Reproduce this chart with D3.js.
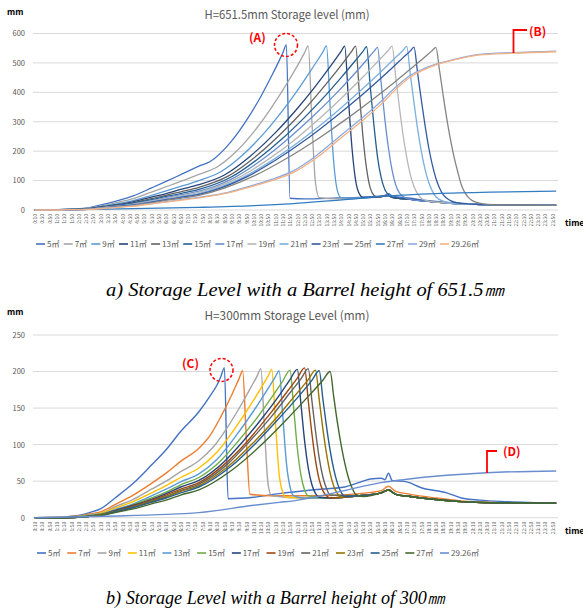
<!DOCTYPE html>
<html>
<head>
<meta charset="utf-8">
<script src="https://cdn.jsdelivr.net/npm/d3@7"></script>
<style>
body { margin: 0; background: #fff; }
</style>
</head>
<body>
<svg id="fig" width="583" height="610" font-family="'Noto Sans CJK KR', 'Noto Sans', sans-serif"></svg>
<script>
// categories: every 10 minutes, 0:10 .. 24:00
var times = [];
for (var m = 10; m <= 1440; m += 10) times.push(Math.floor(m / 60) + ":" + String(m % 60).padStart(2, "0"));
var timeLabels = times.filter(function(t, i) { return i % 2 === 0; });

// ---------- a) H=651.5mm ----------
var ticks1 = [0, 100, 200, 300, 400, 500, 600];
var names1 = ["5㎡","7㎡","9㎡","11㎡","13㎡","15㎡","17㎡","19㎡","21㎡","23㎡","25㎡","27㎡","29㎡","29.26㎡"];
var colors1 = ["#4472C4","#A5A5A5","#5B9BD5","#264478","#636363","#255E91","#698ED0","#B7B7B7","#7CAFDD","#335AA1","#848484","#327DC2","#8FAADC","#F4B183"];

var a5 = [["0:10",0],["1:10",1],["1:50",3],["2:40",8],["3:20",20],["4:00",33],["4:40",48],["5:30",75],["6:10",97],["6:50",120],["7:40",149],["8:10",164],["9:10",235],["9:50",304],["10:30",386],["11:00",457],["11:20",507],["11:30",534],["11:40",561],["11:50",40],["12:30",38],["14:00",41],["15:00",43],["15:40",46],["16:00",48],["16:10",50],["16:20",56],["16:30",48],["17:20",40],["18:10",32],["19:10",25],["20:20",20],["21:40",18],["24:00",17]];
var a7 = [["0:10",0],["1:10",1],["1:50",2],["2:40",6],["3:20",16],["4:00",27],["4:40",39],["5:30",61],["6:10",79],["6:50",97],["7:40",121],["8:30",146],["9:20",196],["10:10",265],["11:00",350],["11:40",427],["12:10",490],["12:30",535],["12:40",558],["12:50",300],["13:00",90],["13:10",42]];
var a9 = [["0:10",0],["1:10",1],["1:50",2],["2:40",5],["3:20",13],["4:00",22],["4:40",32],["5:30",50],["6:10",65],["6:50",80],["7:40",100],["8:40",130],["9:40",187],["10:40",263],["11:30",339],["12:10",406],["12:50",480],["13:20",537],["13:30",558],["13:40",350],["13:50",160],["14:00",65],["14:10",42]];
var a11 = [["0:10",0],["1:10",1],["1:50",2],["2:40",5],["3:20",12],["4:00",19],["4:40",28],["5:30",44],["6:10",56],["6:50",70],["7:40",86],["8:50",119],["10:00",182],["11:10",263],["12:10",345],["13:00",421],["13:40",487],["14:10",539],["14:20",557],["14:30",380],["14:40",210],["14:50",100],["15:00",55],["15:10",43]];
var a13 = [["0:10",0],["1:10",1],["1:50",2],["2:40",4],["3:20",10],["4:00",17],["4:40",25],["5:30",39],["6:10",50],["6:50",62],["7:40",77],["9:00",115],["10:10",176],["11:20",253],["12:20",329],["13:10",400],["13:50",460],["14:20",508],["14:40",541],["14:50",557],["15:00",400],["15:10",250],["15:20",140],["15:30",75],["15:40",50],["15:50",44]];
var a15 = [["0:10",0],["1:10",0],["1:50",1],["2:40",4],["3:20",9],["4:00",16],["4:40",23],["5:30",35],["6:10",46],["6:50",56],["7:40",70],["9:10",113],["10:20",172],["11:30",244],["12:30",315],["13:30",393],["14:10",450],["14:50",509],["15:10",539],["15:20",555],["15:30",420],["15:40",290],["15:50",180],["16:00",110],["16:10",70],["16:20",52],["16:30",44]];
var a17 = [["0:10",0],["1:10",0],["1:50",1],["2:40",3],["3:20",9],["4:00",14],["4:40",21],["5:30",32],["6:10",42],["6:50",52],["7:40",64],["9:20",112],["10:30",168],["11:40",237],["12:50",315],["13:50",388],["14:40",454],["15:20",510],["15:40",539],["15:50",553],["16:00",430],["16:10",310],["16:20",210],["16:30",135],["16:40",85],["16:50",58],["17:00",46]];
var a19 = [["0:10",0],["1:10",0],["1:50",1],["2:40",3],["3:20",8],["4:00",13],["4:40",19],["5:30",30],["6:10",39],["6:50",48],["7:40",60],["9:30",111],["10:50",172],["12:10",246],["13:20",321],["14:20",391],["15:10",452],["15:50",504],["16:10",530],["16:20",543],["16:30",557],["16:40",450],["16:50",350],["17:00",255],["17:10",180],["17:20",120],["17:30",80],["17:40",55],["17:50",40],["18:10",30]];
var a21 = [["0:10",0],["1:10",0],["1:50",1],["2:40",3],["3:20",8],["4:00",12],["4:40",18],["5:30",28],["6:10",36],["6:50",45],["7:40",56],["9:40",110],["11:00",168],["12:20",237],["13:30",305],["14:40",380],["15:30",436],["16:10",483],["16:40",519],["17:00",543],["17:10",556],["17:20",460],["17:30",365],["17:40",275],["17:50",200],["18:00",140],["18:10",95],["18:20",65],["18:30",45],["18:50",30],["19:10",24]];
var a23 = [["0:10",0],["1:10",0],["1:50",1],["2:40",3],["3:20",7],["4:00",12],["4:40",17],["5:30",27],["6:10",35],["6:50",43],["7:40",53],["9:50",112],["11:10",169],["12:30",236],["13:50",312],["14:50",373],["15:50",438],["16:30",483],["17:00",518],["17:20",541],["17:30",554],["17:40",465],["17:50",375],["18:00",290],["18:10",215],["18:20",155],["18:30",108],["18:40",75],["18:50",52],["19:10",32],["19:30",24]];
var a25 = [["0:10",0],["1:10",0],["1:50",1],["2:40",3],["3:20",7],["4:00",11],["4:40",16],["5:30",25],["6:10",33],["6:50",40],["7:40",50],["10:10",115],["11:40",175],["13:10",245],["14:30",314],["15:40",379],["16:40",438],["17:20",479],["17:50",510],["18:10",531],["18:20",542],["18:30",553],["18:40",475],["18:50",390],["19:00",310],["19:10",240],["19:20",180],["19:30",130],["19:40",85],["19:50",58],["20:00",42],["20:10",32],["20:30",23],["20:50",19],["21:40",17],["24:00",16]];
var a27 = [["0:10",0],["3:30",3],["7:40",9],["10:10",15],["12:00",22],["14:20",35],["16:20",48],["18:30",56],["21:00",61],["24:00",64]];
var a29 = [["0:10",0],["1:10",0],["1:50",1],["2:40",2],["3:20",6],["4:00",10],["4:40",14],["5:30",22],["6:10",28],["6:50",35],["7:40",43],["9:00",60],["10:00",81],["11:00",104],["12:00",134],["13:00",183],["14:00",244],["15:00",305],["16:00",370],["16:40",418],["17:20",458],["18:00",482],["18:30",496],["19:20",512],["20:30",529],["22:00",535],["24:00",540]];
var a2926 = [["0:10",0],["1:10",0],["1:50",1],["2:40",2],["3:20",6],["4:00",9],["4:40",13],["5:30",21],["6:10",27],["6:50",33],["7:40",41],["9:00",58],["10:00",78],["11:00",100],["12:00",128],["13:00",175],["14:00",235],["15:00",295],["16:00",360],["16:40",410],["17:20",452],["18:00",478],["18:30",493],["19:20",510],["20:30",527],["22:00",533],["24:00",538]];
// level after overflow, shared by the earlier series
var tail1 = [["14:00",38],["15:00",40],["15:40",43],["16:00",45],["16:20",49],["16:30",43],["17:20",36],["18:10",29],["19:10",23],["20:20",19],["21:40",17],["24:00",16]];

// ---------- b) H=300mm ----------
var ticks2 = [0, 50, 100, 150, 200, 250];
var names2 = ["5㎡","7㎡","9㎡","11㎡","13㎡","15㎡","17㎡","19㎡","21㎡","23㎡","25㎡","27㎡","29.26㎡"];
var colors2 = ["#4472C4","#ED7D31","#A5A5A5","#FFC000","#5B9BD5","#70AD47","#264478","#9E480E","#636363","#997300","#255E91","#43682B","#698ED0"];

var b5 = [["0:10",0],["1:30",1],["2:20",4],["2:40",7],["3:10",12],["3:50",27],["4:40",47],["5:30",72],["6:10",93],["6:50",118],["7:40",145],["8:10",166],["8:30",182],["8:40",193],["8:50",205],["9:00",26],["10:10",28],["11:20",33],["12:50",38],["14:20",42],["15:10",50],["15:30",53],["16:00",54],["16:10",52],["16:20",61],["16:30",51],["17:10",49],["17:50",41],["19:00",34],["19:40",27],["20:30",24],["21:50",22],["24:00",20]];
var b7 = [["0:10",0],["1:30",1],["2:20",3],["2:40",5],["3:10",8],["3:50",18],["4:40",31],["5:30",47],["6:10",61],["6:50",77],["7:40",95],["8:10",112],["8:40",138],["9:10",168],["9:30",190],["9:40",201],["9:50",110],["10:00",32],["11:00",30],["13:00",30],["15:00",33],["16:00",37],["16:20",43],["16:40",36],["17:20",32],["18:30",27],["19:40",23],["21:00",21],["24:00",20]];
var b9 = [["0:10",0],["1:30",1],["2:20",2],["2:40",4],["3:10",6],["3:50",15],["4:40",25],["5:30",39],["6:10",50],["6:50",63],["7:40",78],["8:20",97],["9:00",125],["9:40",158],["10:10",185],["10:20",194],["10:30",204],["10:40",120],["10:50",45],["11:00",30]];
var b11 = [["0:10",0],["1:30",0],["2:20",2],["2:40",3],["3:10",6],["3:50",13],["4:40",22],["5:30",34],["6:10",44],["6:50",55],["7:40",68],["8:30",90],["9:20",123],["10:00",153],["10:30",177],["10:50",194],["11:00",203],["11:10",130],["11:20",60],["11:30",35],["11:40",28]];
var b13 = [["0:10",0],["1:30",0],["2:20",2],["2:40",3],["3:10",5],["3:50",11],["4:40",19],["5:30",30],["6:10",39],["6:50",49],["7:40",60],["8:30",80],["9:20",111],["10:10",146],["10:50",177],["11:10",193],["11:20",201],["11:30",140],["11:40",75],["11:50",42],["12:00",30]];
var b15 = [["0:10",0],["1:30",0],["2:20",2],["2:40",3],["3:10",5],["3:50",10],["4:40",18],["5:30",27],["6:10",35],["6:50",45],["7:40",55],["8:40",78],["9:30",106],["10:20",137],["11:00",165],["11:30",187],["11:50",202],["12:00",150],["12:10",95],["12:20",58],["12:30",38],["12:40",30]];
var b17 = [["0:10",0],["1:30",0],["2:20",1],["2:40",2],["3:10",4],["3:50",10],["4:40",17],["5:30",25],["6:10",33],["6:50",42],["7:40",51],["8:50",77],["9:40",104],["10:30",134],["11:20",167],["11:50",189],["12:10",203],["12:20",155],["12:30",105],["12:40",68],["12:50",45],["13:00",33],["13:10",28]];
var b19 = [["0:10",0],["1:30",0],["2:20",1],["2:40",2],["3:10",4],["3:50",9],["4:40",16],["5:30",24],["6:10",31],["6:50",39],["7:40",48],["8:50",73],["9:50",103],["10:50",139],["11:40",171],["12:10",191],["12:30",205],["12:40",160],["12:50",115],["13:00",78],["13:10",52],["13:20",37],["13:30",30]];
var b21 = [["0:10",0],["1:30",0],["2:20",1],["2:40",2],["3:10",4],["3:50",9],["4:40",15],["5:30",23],["6:10",29],["6:50",37],["7:40",46],["9:00",74],["10:00",105],["11:00",139],["11:50",171],["12:20",190],["12:40",204],["12:50",160],["13:00",118],["13:10",82],["13:20",56],["13:30",40],["13:40",31]];
var b23 = [["0:10",0],["1:30",0],["2:20",1],["2:40",2],["3:10",4],["3:50",8],["4:40",14],["5:30",22],["6:10",28],["6:50",36],["7:40",44],["9:00",70],["10:10",103],["11:10",135],["12:00",165],["12:40",189],["13:00",202],["13:10",162],["13:20",122],["13:30",88],["13:40",61],["13:50",43],["14:00",33],["14:10",28]];
var b25 = [["0:10",0],["1:30",0],["2:20",1],["2:40",2],["3:10",3],["3:50",8],["4:40",14],["5:30",21],["6:10",27],["6:50",34],["7:40",42],["9:10",71],["10:20",104],["11:20",136],["12:10",164],["12:50",188],["13:10",201],["13:20",163],["13:30",125],["13:40",92],["13:50",66],["14:00",47],["14:10",35],["14:20",29]];
var b27 = [["0:10",0],["1:30",0],["2:20",1],["2:40",2],["3:10",3],["3:50",7],["4:40",12],["5:30",19],["6:10",24],["6:50",31],["7:40",38],["9:10",65],["10:30",99],["11:40",134],["12:40",166],["13:20",188],["13:40",200],["13:50",165],["14:00",130],["14:10",100],["14:20",75],["14:30",55],["14:40",41],["14:50",32],["15:10",29]];
var b2926 = [["0:10",0],["3:20",2],["7:40",7],["10:10",17],["11:20",21],["12:00",23],["14:00",35],["16:00",48],["17:00",52],["19:00",58],["20:50",61.6],["24:00",64]];
var tail2 = [["12:30",27],["13:40",27],["15:00",30],["16:00",34],["16:20",38],["16:40",32],["17:20",29],["18:30",25],["19:40",22],["21:00",20.5],["24:00",20]];

function withTail(pts, tail) {
  var last = times.indexOf(pts[pts.length - 1][0]);
  return pts.concat(tail.filter(function(p) { return times.indexOf(p[0]) > last; }));
}

var series1 = [a5, withTail(a7, tail1), withTail(a9, tail1), withTail(a11, tail1), withTail(a13, tail1),
  withTail(a15, tail1), withTail(a17, tail1), withTail(a19, tail1), withTail(a21, tail1), withTail(a23, tail1),
  a25, a27, a29, a2926];
var series2 = [b5, b7, withTail(b9, tail2), withTail(b11, tail2), withTail(b13, tail2), withTail(b15, tail2),
  withTail(b17, tail2), withTail(b19, tail2), withTail(b21, tail2), withTail(b23, tail2), withTail(b25, tail2),
  withTail(b27, tail2), b2926];

var svg = d3.select("#fig");
var x = d3.scalePoint().domain(times).range([33, 558]).padding(0.5);

function drawChart(c) {
  var g = svg.append("g");
  var y = d3.scaleLinear().domain([0, c.ymax]).range([c.y0, c.y1]);

  // gridlines
  g.selectAll(".grid").data(c.ticks).enter().append("line")
    .attr("x1", 33).attr("x2", 558)
    .attr("y1", function(d) { return y(d); }).attr("y2", function(d) { return y(d); })
    .attr("stroke", "#d9d9d9").attr("stroke-width", 1);

  // y axis
  var yAxis = g.append("g").attr("transform", "translate(33,0)")
    .call(d3.axisLeft(y).tickValues(c.ticks).tickSize(0).tickPadding(8));
  yAxis.select(".domain").remove();
  yAxis.attr("font-family", null).attr("font-size", null);
  yAxis.selectAll("text").attr("font-size", 7.5).attr("fill", "#595959");

  // x axis
  var xAxis = g.append("g").attr("transform", "translate(0," + c.y0 + ")")
    .call(d3.axisBottom(x).tickValues(timeLabels).tickSize(0));
  xAxis.select(".domain").remove();
  xAxis.attr("font-family", null).attr("font-size", null);
  xAxis.selectAll("text")
    .attr("transform", "rotate(-90)")
    .attr("text-anchor", "end")
    .attr("x", -4).attr("y", 0).attr("dy", "0.35em")
    .attr("font-size", 5).attr("fill", "#595959");

  // lines
  var line = d3.line()
    .x(function(d) { return x(d[0]); })
    .y(function(d) { return y(d[1]); })
    .curve(d3.curveMonotoneX);
  g.selectAll(".series").data(c.series).enter().append("path")
    .attr("d", line)
    .attr("fill", "none")
    .attr("stroke", function(d, i) { return c.colors[i]; })
    .attr("stroke-width", c.lw)
    .attr("stroke-linejoin", "round");

  // title and unit labels
  g.append("text").attr("x", 287).attr("y", c.titleY).attr("text-anchor", "middle")
    .attr("font-size", 12).attr("fill", "#595959")
    .attr("textLength", 165).attr("lengthAdjust", "spacingAndGlyphs").text(c.title);
  g.append("text").attr("x", 7).attr("y", c.mmY).attr("font-size", 8.5).attr("font-weight", "bold")
    .attr("fill", "#000").text("mm");
  g.append("text").attr("x", 565).attr("y", c.y0 + 16).attr("font-size", 8.5).attr("font-weight", "bold")
    .attr("fill", "#000").text("time");

  // legend
  var lg = g.append("g");
  var items = c.names.map(function(n, i) {
    var t = lg.append("text").attr("y", c.legY).attr("dy", "0.35em").attr("font-size", 8)
      .attr("fill", "#595959").text(n);
    return { t: t, w: t.node().getComputedTextLength(), color: c.colors[i] };
  });
  var total = d3.sum(items, function(d) { return d.w + 11; });
  var gap = (c.legX1 - c.legX0 - total) / (items.length - 1);
  var cx = c.legX0;
  items.forEach(function(d) {
    lg.append("line").attr("x1", cx).attr("x2", cx + 9).attr("y1", c.legY).attr("y2", c.legY)
      .attr("stroke", d.color).attr("stroke-width", 1.6);
    d.t.attr("x", cx + 11);
    cx += 11 + d.w + gap;
  });

  // caption
  svg.append("text").attr("x", c.capX).attr("y", c.capY)
    .attr("font-family", "'Liberation Serif', 'Times New Roman', serif")
    .attr("font-style", "italic").attr("font-size", 19).attr("fill", "#000")
    .attr("textLength", c.capW).attr("lengthAdjust", "spacingAndGlyphs")
    .text(c.caption);
  return y;
}

drawChart({
  ymax: 600, y0: 210, y1: 33.5, ticks: ticks1, series: series1, colors: colors1, names: names1, lw: 1.3,
  title: "H=651.5mm Storage level (mm)", titleY: 18.5, mmY: 15,
  legY: 244, legX0: 36, legX1: 479,
  caption: "a) Storage Level with a Barrel height of 651.5㎜", capX: 106, capY: 296, capW: 398
});
drawChart({
  ymax: 250, y0: 517.7, y1: 335, ticks: ticks2, series: series2, colors: colors2, names: names2, lw: 1.4,
  title: "H=300mm Storage Level (mm)", titleY: 319.5, mmY: 315,
  legY: 553, legX0: 37, legX1: 479,
  caption: "b) Storage Level with a Barrel height of 300㎜", capX: 106, capY: 604, capW: 339
});

// annotations
var red = "#FF0000";
function label(t, lx, ly) {
  svg.append("text").attr("x", lx).attr("y", ly).attr("font-size", 12).attr("font-weight", "bold")
    .attr("fill", red).text(t);
}
function ring(cx, cy) {
  svg.append("circle").attr("cx", cx).attr("cy", cy).attr("r", 11.5).attr("fill", "none")
    .attr("stroke", red).attr("stroke-width", 1.5).attr("stroke-dasharray", "3,2");
}
function bracket(bx, by0, by1, bx1) {
  svg.append("path").attr("d", "M" + bx + "," + by0 + "V" + by1 + "H" + bx1)
    .attr("fill", "none").attr("stroke", red).attr("stroke-width", 1.8);
}
label("(A)", 249, 42); ring(286, 45);
label("(B)", 529, 36); bracket(513.5, 53, 30, 527);
label("(C)", 182, 368); ring(221.5, 370);
label("(D)", 503, 456); bracket(487, 473, 451, 497);
</script>
</body>
</html>
